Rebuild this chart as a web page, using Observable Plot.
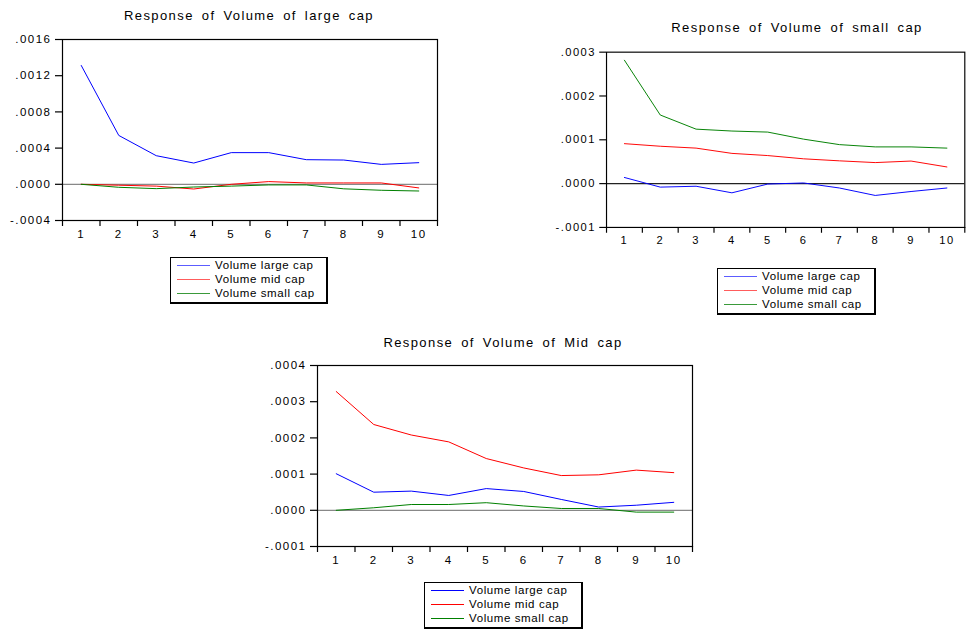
<!DOCTYPE html>
<html>
<head>
<meta charset="utf-8">
<script src="https://cdn.jsdelivr.net/npm/d3@7"></script>
<script src="https://cdn.jsdelivr.net/npm/@observablehq/plot@0.6"></script>
<style>
  html, body { margin: 0; padding: 0; background: #fff; overflow: hidden; }
  #wrap { position: relative; width: 974px; height: 629px; overflow: hidden; font-family: "Liberation Sans", Arial, sans-serif; color: #000; }
  .chart { position: absolute; }
  .title { position: absolute; font-size: 13px; letter-spacing: 1.4px; word-spacing: 3px; white-space: nowrap; transform: translate(-50%, -50%); }
  .legend { position: absolute; border: 1px solid #000; border-right-width: 2px; border-bottom-width: 2px; box-sizing: border-box; font-size: 11.5px; letter-spacing: 0.6px; padding: 0 0 0 6px; }
  .legend .row { position: relative; height: 14px; line-height: 14px; white-space: nowrap; padding-left: 38px; }
  .legend .sw { position: absolute; left: 0; top: 7px; width: 33px; height: 1px; }
</style>
</head>
<body>
<div id="wrap"></div>
<script>
// ---- data ----
const periods = [1, 2, 3, 4, 5, 6, 7, 8, 9, 10];
const seriesNames = ["Volume large cap", "Volume mid cap", "Volume small cap"];
const seriesColors = ["#0000ff", "#ff0000", "#008000"];

// Response of Volume of large cap
const largeResp_large = [0.001313, 0.00054, 0.000316, 0.000235, 0.00035, 0.00035, 0.000272, 0.000268, 0.00022, 0.000239];
const largeResp_mid   = [0.0, -0.00001, -0.00002, -0.000052, 0.0, 0.00003, 0.000015, 0.000015, 0.000015, -0.00004];
const largeResp_small = [0.0, -0.000033, -0.000048, -0.00003, -0.00002, -0.000007, -0.000007, -0.00005, -0.000066, -0.000074];

// Response of Volume of small cap
const smallResp_large = [0.000014, -0.000008, -0.000006, -0.000021, -0.000001, 0.0000015, -0.00001, -0.000027, -0.000018, -0.00001];
const smallResp_mid   = [0.0000912, 0.0000853, 0.000081, 0.000069, 0.000064, 0.0000566, 0.000052, 0.000048, 0.0000515, 0.000038];
const smallResp_small = [0.0002816, 0.0001566, 0.0001243, 0.00012, 0.0001176, 0.0001015, 0.000089, 0.0000838, 0.0000838, 0.000081];

// Response of Volume of Mid cap
const midResp_large = [0.000101, 0.00005, 0.000053, 0.000041, 0.00006, 0.000052, 0.00003, 0.000009, 0.000014, 0.000022];
const midResp_mid   = [0.000328, 0.000237, 0.000208, 0.000189, 0.000143, 0.000117, 0.000096, 0.000098, 0.000111, 0.000104];
const midResp_small = [0.0, 0.000007, 0.000016, 0.000016, 0.000021, 0.000012, 0.000005, 0.000005, -0.000005, -0.000005];

const titles = ["Response of Volume of large cap", "Response of Volume of small cap", "Response of Volume of Mid cap"];
const yTicks1 = [-0.0004, 0.0, 0.0004, 0.0008, 0.0012, 0.0016];
const yTicks2 = [-0.0001, 0.0, 0.0001, 0.0002, 0.0003];
const yTicks3 = [-0.0001, 0.0, 0.0001, 0.0002, 0.0003, 0.0004];

// ---- helpers ----
function toRows(arrs) {
  const rows = [];
  arrs.forEach((arr, i) => arr.forEach((v, j) => rows.push({period: periods[j], value: v, series: seriesNames[i]})));
  return rows;
}
const fmt = d => {
  const s = d3.format(".4f")(Math.abs(d) < 1e-12 ? 0 : d).replace(/\u2212/g, "-");
  return s.replace(/^(-?)0\./, "$1.");
};
const edges = d3.range(0.5, 11, 1);

function makeChart(arrs, yTicks, frame, zeroColor) {
  const mt = 10, mb = 26, mr = 10, ml = 62;
  const w = frame.right - frame.left, h = frame.bottom - frame.top;
  const plot = Plot.plot({
    width: ml + w + mr,
    height: mt + h + mb,
    marginLeft: ml, marginTop: mt, marginRight: mr, marginBottom: mb,
    x: {domain: [0.5, 10.5], label: null},
    y: {domain: [yTicks[0], yTicks[yTicks.length - 1]], label: null},
    color: {domain: seriesNames, range: seriesColors},
    style: {fontFamily: "'Liberation Sans', Arial, sans-serif", fontSize: "11.5px", color: "#000", background: "transparent", letterSpacing: "1.5px"},
    marks: [
      Plot.ruleY([0], {stroke: zeroColor, strokeWidth: 1.2}),
      Plot.line(toRows(arrs), {x: "period", y: "value", z: "series", stroke: "series", strokeWidth: 1}),
      Plot.frame({stroke: "#000", strokeWidth: 1.2}),
      Plot.axisY({ticks: yTicks, tickFormat: fmt, tickSize: 7, tickPadding: 4, strokeWidth: 1.2, label: null}),
      Plot.axisX({ticks: edges, tickSize: 6, tickFormat: () => "", strokeWidth: 1.2, label: null}),
      Plot.axisX({ticks: periods, tickSize: 0, tickPadding: 9, tickFormat: d => String(d), label: null})
    ]
  });
  const div = document.createElement("div");
  div.className = "chart";
  div.style.left = (frame.left - ml) + "px";
  div.style.top = (frame.top - mt) + "px";
  div.appendChild(plot);
  return div;
}

function makeTitle(text, cx, cy) {
  const d = document.createElement("div");
  d.className = "title";
  d.style.left = cx + "px";
  d.style.top = cy + "px";
  d.textContent = text;
  return d;
}

function makeLegend(box, light) {
  const d = document.createElement("div");
  d.className = "legend";
  d.style.left = box.x + "px";
  d.style.top = box.y + "px";
  d.style.width = box.w + "px";
  d.style.height = box.h + "px";
  const cols = light ? ["#5c5cff", "#ff5c5c", "#3a9a3a"] : seriesColors;
  seriesNames.forEach((n, i) => {
    const r = document.createElement("div");
    r.className = "row";
    const s = document.createElement("span");
    s.className = "sw";
    s.style.background = cols[i];
    r.appendChild(s);
    r.appendChild(document.createTextNode(n));
    d.appendChild(r);
  });
  return d;
}

const wrap = document.getElementById("wrap");
wrap.appendChild(makeChart([largeResp_large, largeResp_mid, largeResp_small], yTicks1, {left: 62, top: 39, right: 437, bottom: 220}, "#888"));
wrap.appendChild(makeChart([smallResp_large, smallResp_mid, smallResp_small], yTicks2, {left: 608, top: 52, right: 978, bottom: 233}, "#222"));
wrap.appendChild(makeChart([midResp_large, midResp_mid, midResp_small], yTicks3, {left: 317, top: 365, right: 692, bottom: 546}, "#888"));

wrap.appendChild(makeTitle(titles[0], 249, 15));
wrap.appendChild(makeTitle(titles[1], 797, 27));
wrap.appendChild(makeTitle(titles[2], 503, 342));

wrap.appendChild(makeLegend({x: 170, y: 257, w: 158, h: 47}, true));
wrap.appendChild(makeLegend({x: 717, y: 268, w: 159, h: 47}, true));
wrap.appendChild(makeLegend({x: 424, y: 582, w: 159, h: 47}, false));
</script>
</body>
</html>
